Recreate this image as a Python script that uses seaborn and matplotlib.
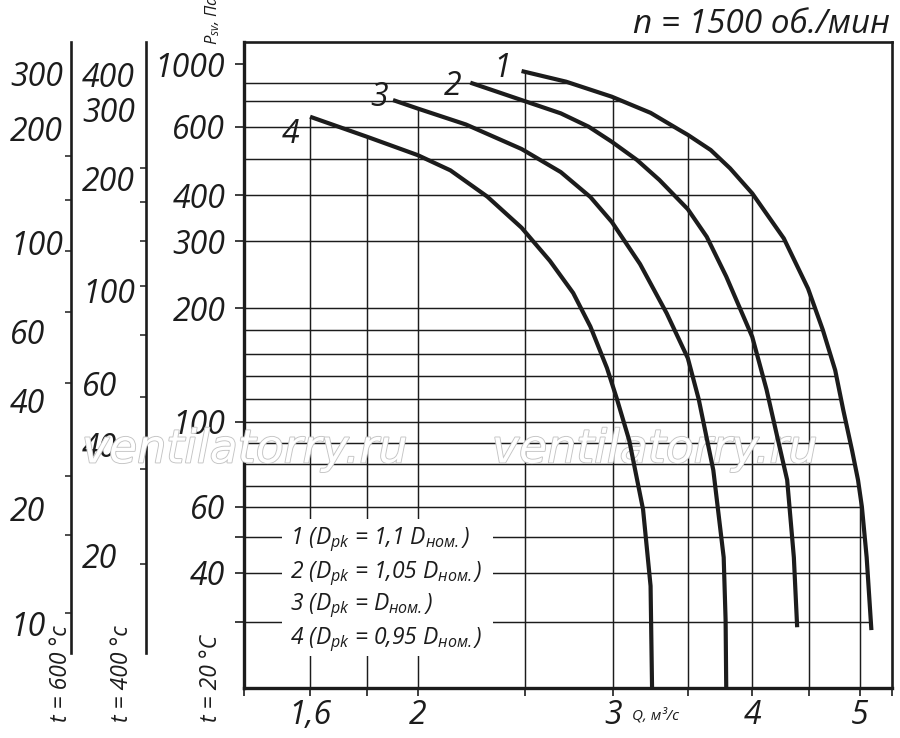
import numpy as np
import pandas as pd
import matplotlib
matplotlib.use("Agg")
import matplotlib.pyplot as plt
import matplotlib.patheffects as pe
from matplotlib.patches import Rectangle
from matplotlib.ticker import NullLocator
import seaborn as sns

# fan curves, Q in m3/s and P_sv in Pa (t = 20 C)
q1 = [2.48, 2.72, 2.99, 3.24, 3.44, 3.5, 3.67, 3.82, 4.0, 4.27, 4.49, 4.63, 4.75, 4.83, 4.92, 4.98, 5.02, 5.07, 5.12]
p1 = [922, 815, 723, 652, 589, 573, 526, 472, 404, 305, 225, 180, 145, 110, 86, 72.6, 60, 44, 28.5]
q2 = [2.23, 2.48, 2.69, 2.85, 2.99, 3.15, 3.3, 3.5, 3.64, 3.79, 4.0, 4.12, 4.22, 4.3, 4.36, 4.39]
p2 = [806, 705, 650, 600, 551, 497, 439, 366, 308, 242, 174, 128, 91, 72.6, 44, 29]
q3 = [1.9, 2.0, 2.21, 2.48, 2.69, 2.86, 2.99, 3.17, 3.35, 3.5, 3.58, 3.69, 3.77, 3.785, 3.79]
p3 = [705, 669, 608, 529, 461, 395, 338, 261, 195, 156, 120, 77, 44, 30.3, 20]
q4 = [1.6, 1.8, 2.0, 2.14, 2.31, 2.48, 2.63, 2.76, 2.86, 2.96, 3.02, 3.1, 3.19, 3.24, 3.25]
p4 = [637, 567, 511, 466, 396, 326, 266, 219, 183, 147, 121, 91, 59, 37, 20]
curve_names = ["1", "2", "3", "4"]

legend_lines = [
    r"1 ($D_{pk}$ = 1,1 $D_{ном.}$)",
    r"2 ($D_{pk}$ = 1,05 $D_{ном.}$)",
    r"3 ($D_{pk}$ = $D_{ном.}$)",
    r"4 ($D_{pk}$ = 0,95 $D_{ном.}$)",
]

# axes ticks / grid
q_grid = [1.6, 1.8, 2, 2.5, 3, 3.5, 4, 4.5, 5]
q_labels = ["1,6", "", "2", "", "3", "", "4", "", "5"]
p_grid = [30, 40, 50, 60, 70, 80, 90, 100, 120, 140, 160, 180, 200, 300, 400, 500, 600, 700, 800]
p_ticks = [30, 40, 50, 60, 100, 200, 300, 400, 600, 1000]
p_tick_labels = ["", "40", "", "60", "100", "200", "300", "400", "600", "1000"]

# side scales for hot gas (same pressure axis, density ratio)
t600_labels = [300, 200, 100, 60, 40, 20, 10]
t600_minor = [171, 130, 95, 66, 45, 25, 17, 10.6]
t600_ratio = 0.336
t400_labels = [400, 300, 200, 100, 60, 40, 20]
t400_minor = [213, 172, 135, 103, 79, 55, 35, 19]
t400_ratio = 0.45

# the printed pressure scale is not a clean log scale: calibrate it
cal_p = [1, 20, 30, 40, 50, 60, 70, 80, 90, 100, 120, 140, 160, 180, 200,
         300, 400, 500, 600, 700, 800, 1000, 1300, 1e5]
cal_y = [1198, 688, 621.7, 572.7, 536.7, 506.7, 486, 464, 442.7, 421.7, 399.3, 376,
         354, 330, 308, 241, 195, 159, 126.7, 101, 83.3, 64, 41.7, -358]
cal_lp = np.log10(cal_p)
cal_u = -np.array(cal_y)


def fwd(v):
    v = np.clip(np.asarray(v, dtype=float), 1e-6, None)
    return np.interp(np.log10(v), cal_lp, cal_u)


def inv(u):
    return 10 ** np.interp(np.asarray(u, dtype=float), cal_u, cal_lp)


W, H = 900, 738
sns.set_theme(style="white")
plt.rcParams["font.family"] = ["Open Sans", "DejaVu Sans"]
plt.rcParams["font.style"] = "italic"
plt.rcParams["mathtext.fontset"] = "custom"
plt.rcParams["mathtext.rm"] = "Open Sans:italic"
plt.rcParams["mathtext.it"] = "Open Sans:italic"
plt.rcParams["mathtext.sf"] = "Open Sans:italic"
ink = "#1c1c1c"

fig = plt.figure(figsize=(W / 100, H / 100), dpi=100)


def side_axis(x_px, ratio, labels, minor, pad):
    a = fig.add_axes([x_px / W, (H - 653) / H, 0.005, (653 - 41.7) / H])
    a.set_yscale("function", functions=(fwd, inv))
    a.set_ylim(inv(-653), 1300)
    a.set_xticks([])
    for s in ["top", "right", "bottom"]:
        a.spines[s].set_visible(False)
    a.spines["left"].set_linewidth(1.9)
    a.spines["left"].set_color(ink)
    a.patch.set_visible(False)
    a.set_yticks([v / ratio for v in labels])
    a.set_yticklabels([str(v) for v in labels])
    a.set_yticks([v / ratio for v in minor], minor=True)
    a.tick_params(axis="y", which="major", left=False, length=0, pad=pad,
                  labelsize=23, labelcolor=ink)
    a.tick_params(axis="y", which="minor", left=True, length=4.5, width=1.1, color=ink)
    # labels of the side scales are left aligned in the print
    for lab in a.get_yticklabels():
        lab.set_horizontalalignment("left")
    return a


side_axis(71, t600_ratio, t600_labels, t600_minor, 44)
side_axis(146, t400_ratio, t400_labels, t400_minor, 46)

ax = fig.add_axes([244 / W, (H - 688) / H, (891.7 - 244) / W, (688 - 41.7) / H])
ax.set_xscale("log")
ax.set_yscale("function", functions=(fwd, inv))
ax.set_xlim(1.3953, 5.34)
ax.set_ylim(20, 1300)

frames = []
for name, q, p in zip(curve_names, [q1, q2, q3, q4], [p1, p2, p3, p4]):
    frames.append(pd.DataFrame({"Q": q, "P": p, "curve": name}))
df = pd.concat(frames, ignore_index=True)

# grid, cut by the curves like in the print
curves = [(np.log10(q), np.log10(p)) for q, p in zip([q1, q2, q3, q4], [p1, p2, p3, p4])]
v_tops = []
for qv in q_grid:
    lq = np.log10(qv)
    tops = [np.interp(lq, cq, cp) for cq, cp in curves if cq[0] - 1e-9 <= lq <= cq[-1]]
    v_tops.append(10 ** max(tops))
ax.vlines(q_grid, 20, v_tops, color=ink, lw=1.05, zorder=1)
lq1, lp1 = curves[0]
h_ends = [10 ** np.interp(np.log10(pv), lp1[::-1], lq1[::-1]) for pv in p_grid]
ax.hlines(p_grid, 1.3953, h_ends, color=ink, lw=1.05, zorder=1)

sns.lineplot(data=df, x="Q", y="P", hue="curve", units="curve", estimator=None,
             sort=False, palette=[ink] * 4, lw=3.0, legend=False, ax=ax, zorder=4,
             solid_joinstyle="round", solid_capstyle="butt")

# curve numbers next to the start of each curve
label_offsets = [(-14, 1.5), (-12.5, -2.5), (-10, 2), (-14, -13)]
for name, q, p, off in zip(curve_names, [q1, q2, q3, q4], [p1, p2, p3, p4], label_offsets):
    ax.annotate(name, xy=(q[0], p[0]), xytext=off, textcoords="offset points",
                ha="center", va="center", fontsize=23, color=ink, zorder=5)

# legend block
ax.add_patch(Rectangle((0.0587, 0.049), 0.3258, 0.2124, transform=ax.transAxes,
                       facecolor="white", edgecolor="none", zorder=2))
for txt, yb in zip(legend_lines, [0.2228, 0.1701, 0.1205, 0.0678]):
    ax.text(0.071, yb, txt, transform=ax.transAxes, ha="left", va="baseline",
            fontsize=16.5, color=ink, zorder=5)

# watermark
for xc in [245, 655]:
    ax.text(xc / W, 1 - 450 / H, "ventilatorry.ru", transform=fig.transFigure,
            ha="center", va="center", fontsize=33, family=["DejaVu Sans"],
            style="oblique", weight="light", color="white", clip_on=False, zorder=3,
            path_effects=[pe.withStroke(linewidth=1.3, foreground="#c4c4c4")])

# axes styling
for s in ["left", "bottom"]:
    ax.spines[s].set_linewidth(2.4)
for s in ["top", "right"]:
    ax.spines[s].set_linewidth(1.9)
for s in ax.spines.values():
    s.set_color(ink)
ax.xaxis.set_minor_locator(NullLocator())
ax.yaxis.set_minor_locator(NullLocator())
ax.set_xticks(q_grid + [1.3953, 5.34])
ax.set_xticklabels(q_labels + ["", ""])
ax.set_yticks(p_ticks)
ax.set_yticklabels(p_tick_labels)
ax.tick_params(axis="x", bottom=True, direction="out", length=6, width=1.2, color=ink,
               pad=2, labelsize=23, labelcolor=ink)
ax.tick_params(axis="y", left=True, direction="out", length=6.5, width=1.2, color=ink,
               pad=7, labelsize=23, labelcolor=ink)
ax.set_xlabel("")
ax.set_ylabel("")

# texts around the frame
fig.text(890 / W, 1 - 33 / H, "n = 1500 об./мин", ha="right", va="baseline",
         fontsize=24, color=ink)
fig.text(632 / W, 1 - 720 / H, "Q, м³/с", ha="left", va="baseline", fontsize=11, color=ink)
fig.text(213 / W, 1 - 45 / H, r"$P_{sv}$, Па", rotation=90, ha="center", va="bottom",
         fontsize=12, color=ink)
for xc, txt in zip([61, 122, 211], ["t = 600 °c", "t = 400 °c", "t = 20 °C"]):
    fig.text(xc / W, 16 / H, txt, rotation=90, ha="center", va="bottom",
             fontsize=16.5, color=ink)

fig.savefig("out.png", dpi=100)
